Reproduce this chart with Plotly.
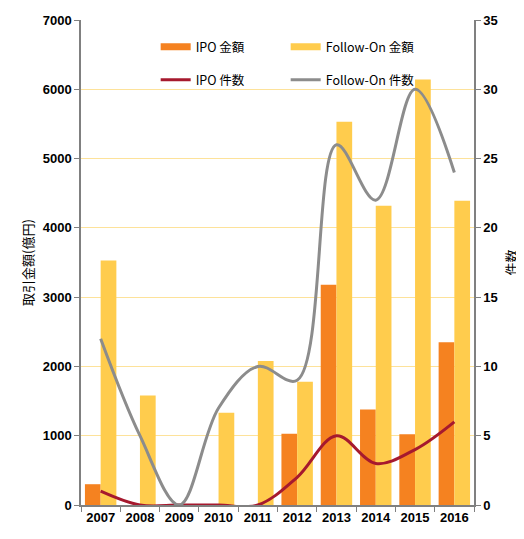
import plotly.graph_objects as go

years = ["2007", "2008", "2009", "2010", "2011", "2012", "2013", "2014", "2015", "2016"]
ipo_amount = [300, 0, 0, 0, 0, 1030, 3180, 1380, 1020, 2350]
fo_amount = [3530, 1580, 0, 1330, 2080, 1780, 5530, 4320, 6140, 4390]
ipo_count = [1, 0, 0, 0, 0, 2, 5, 3, 4, 6]
fo_count = [12, 5, 0, 7, 10, 9, 26, 22, 30, 24]

ORANGE = "#F58220"
YELLOW = "#FFCC4D"
RED = "#A6192E"
GREY = "#8C8C8C"

cjk = "Noto Sans CJK JP, sans-serif"
tickfont = dict(family="Liberation Sans, Arial, sans-serif", size=13, color="#000000", weight="bold")
legfont = dict(family=cjk, size=12.5, color="#000000")

fig = go.Figure()
fig.add_trace(go.Bar(x=years, y=ipo_amount, name="IPO 金額", marker_color=ORANGE,
                     marker_line_width=0, showlegend=False))
fig.add_trace(go.Bar(x=years, y=fo_amount, name="Follow-On 金額", marker_color=YELLOW,
                     marker_line_width=0, showlegend=False))
# legend swatches for the bar series (rectangular keys)
fig.add_trace(go.Scatter(x=[None], y=[None], name="IPO 金額", mode="lines",
                         line=dict(color=ORANGE, width=7), legend="legend"))
fig.add_trace(go.Scatter(x=[None], y=[None], name="Follow-On 金額", mode="lines",
                         line=dict(color=YELLOW, width=7), legend="legend"))
fig.add_trace(go.Scatter(x=years, y=ipo_count, name="IPO 件数", mode="lines", yaxis="y2",
                         line=dict(color=RED, width=3, shape="spline", smoothing=1.0), legend="legend2"))
fig.add_trace(go.Scatter(x=years, y=fo_count, name="Follow-On 件数", mode="lines", yaxis="y2",
                         line=dict(color=GREY, width=3, shape="spline", smoothing=1.0), legend="legend2"))

fig.update_layout(
    width=516, height=531,
    margin=dict(l=73, r=50, t=12, b=34, autoexpand=False),
    paper_bgcolor="white", plot_bgcolor="white",
    barmode="group", bargap=0.2, bargroupgap=0,
    showlegend=True,
    legend=dict(orientation="h", x=0.19, xanchor="left", y=0.975, yanchor="top",
                entrywidth=85, entrywidthmode="pixels", itemwidth=30,
                bgcolor="rgba(255,255,255,0)", font=legfont),
    legend2=dict(orientation="h", x=0.19, xanchor="left", y=0.907, yanchor="top",
                 entrywidth=85, entrywidthmode="pixels", itemwidth=30,
                 bgcolor="rgba(255,255,255,0)", font=legfont),
    xaxis=dict(showline=True, linecolor="#808080", linewidth=1.5, ticks="outside",
               tickson="boundaries", ticklen=5, tickcolor="#808080",
               tickfont=tickfont, showgrid=False, automargin=False),
    yaxis=dict(range=[0, 7000], dtick=1000, showline=True, linecolor="#808080", linewidth=1.5,
               ticks="outside", ticklen=5, tickcolor="#808080", tickfont=tickfont,
               gridcolor="#FDE29A", gridwidth=1, zeroline=False, automargin=False,
               title=dict(text="取引金額(億円)", font=dict(family=cjk, size=13, color="#000000"), standoff=6)),
    yaxis2=dict(range=[0, 35], dtick=5, overlaying="y", side="right", showline=True,
                linecolor="#808080", linewidth=1.5, ticks="outside", ticklen=5, tickcolor="#808080",
                tickfont=tickfont, showgrid=False, zeroline=False, automargin=False,
                title=dict(text="件数", font=dict(family=cjk, size=13, color="#000000"), standoff=10)),
)

fig.write_html("out.html")
